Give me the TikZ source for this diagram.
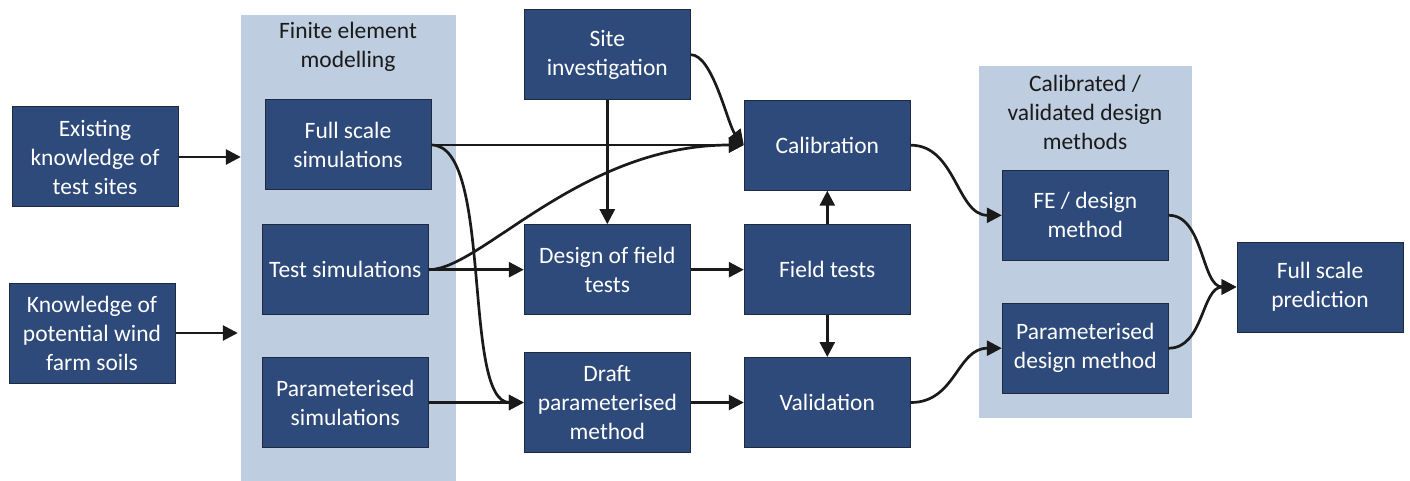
\documentclass[tikz,border=0pt]{standalone}
\usepackage{fontspec}
\setmainfont{Carlito}
\usetikzlibrary{arrows.meta}
\definecolor{boxblue}{HTML}{2E4A7A}
\definecolor{boxedge}{HTML}{1E2A40}
\definecolor{bgblue}{HTML}{BECDDF}
\definecolor{titletext}{HTML}{1A1A1A}
\definecolor{arrowcol}{HTML}{1A1A1A}
\tikzset{
  stepbox/.style={draw=boxedge, line width=1pt, fill=boxblue, text=white,
    align=center, inner sep=0pt, minimum width=166pt, minimum height=90pt,
    font=\fontsize{23.5}{29}\selectfont},
  bgpanel/.style={fill=bgblue, draw=none, inner sep=0pt},
  paneltitle/.style={text=titletext, align=center, inner sep=0pt,
    font=\fontsize{23.5}{29}\selectfont},
  flow/.style={draw=arrowcol, line width=2.7pt,
    -{Triangle[length=15pt,width=15pt]}},
}
\begin{document}
\begin{tikzpicture}[x=1pt,y=1pt]
\useasboundingbox (0,0) rectangle (1410,-481);
% background panels
\node[bgpanel, minimum width=215pt, minimum height=466pt] (fe) at (348.5,-248) {};
\node[bgpanel, minimum width=213pt, minimum height=352pt] (cal) at (1085.5,-242) {};
\node[paneltitle] (fetitle) at (348,-47) {Finite element\\modelling};
\node[paneltitle] (caltitle) at (1085,-112) {Calibrated /\\validated design\\methods};
% boxes
\node[stepbox, minimum height=100pt] (exist) at (95,-157) {Existing\\knowledge of\\test sites};
\node[stepbox, minimum height=100pt] (know) at (92,-333) {Knowledge of\\potential wind\\farm soils};
\node[stepbox] (fesim) at (348,-145) {Full scale\\simulations};
\node[stepbox] (testsim) at (345.3,-269.7) {Test simulations};
\node[stepbox] (paramsim) at (345.3,-402.5) {Parameterised\\simulations};
\node[stepbox] (site) at (607.3,-54.7) {Site\\investigation};
\node[stepbox] (calib) at (827.3,-145.2) {Calibration};
\node[stepbox] (design) at (607.3,-269.7) {Design of field\\tests};
\node[stepbox] (field) at (827.3,-269.7) {Field tests};
\node[stepbox, minimum height=100pt] (draft) at (607.3,-402.5) {Draft\\parameterised\\method};
\node[stepbox] (valid) at (827.3,-402.5) {Validation};
\node[stepbox] (fedes) at (1085.3,-215.3) {FE / design\\method};
\node[stepbox] (pardes) at (1085.3,-348.2) {Parameterised\\design method};
\node[stepbox] (fsp) at (1320,-287) {Full scale\\prediction};
% connectors
\draw[flow] (exist.east) -- (exist.east -| fe.west);
\draw[flow] (know.east) -- ([xshift=-3pt]know.east -| fe.west);
\draw[flow] (fesim.east) -- (fesim.east -| calib.west);
\draw[flow] (fesim.east) .. controls +(62,0) and +(-62,0) .. (draft.west);
\draw[flow] (testsim.east) -- (design.west);
\draw[flow] (testsim.east) .. controls +(52,0) and +(-164,0) .. (fesim.east -| calib.west);
\draw[flow] (site.south) -- (design.north);
\draw[flow] (site.east) .. controls +(22,0) and +(-16,20) .. (fesim.east -| calib.west);
\draw[flow] (paramsim.east) -- (draft.west);
\draw[flow] (draft.east) -- (valid.west);
\draw[flow] (design.east) -- (field.west);
\draw[flow] (field.north) -- (calib.south);
\draw[flow] (field.south) -- (valid.north);
\draw[flow] (calib.east) .. controls +(45,0) and +(-45,0) .. (fedes.west);
\draw[flow] (valid.east) .. controls +(45,0) and +(-45,0) .. (pardes.west);
\draw[flow] (fedes.east) .. controls +(35,0) and +(-35,0) .. (fsp.west);
\draw[flow] (pardes.east) .. controls +(35,0) and +(-35,0) .. (fsp.west);
\end{tikzpicture}
\end{document}
